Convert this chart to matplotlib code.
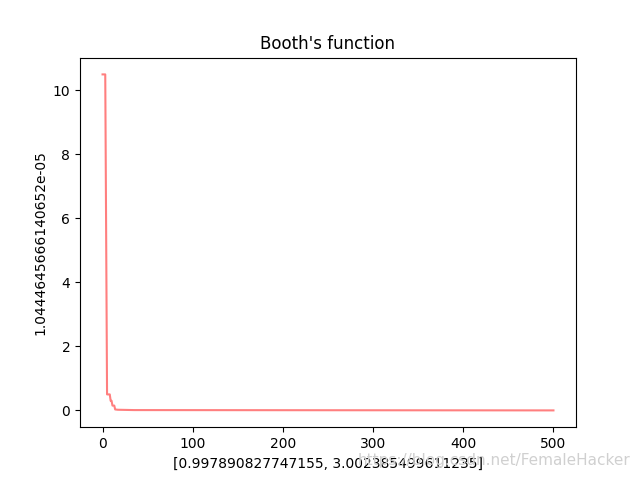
import matplotlib
matplotlib.use("Agg")
import matplotlib.pyplot as plt

iterations = [0, 3, 5, 8, 9, 10, 11, 13, 14, 17, 35, 500]
best_values = [10.5, 10.5, 0.5, 0.5, 0.3, 0.3, 0.15, 0.15, 0.03, 0.02, 0.01, 0.0]
title = "Booth's function"
xlabel = "[0.997890827747155, 3.002385499611235]"
ylabel = "1.0444645666140652e-05"

fig, ax = plt.subplots(figsize=(6.4, 4.8), dpi=100)
ax.plot(iterations, best_values, color='red', alpha=0.5, linewidth=1.5)
ax.set_title(title)
ax.set_xlabel(xlabel)
ax.set_ylabel(ylabel)
ax.set_xticks([0, 100, 200, 300, 400, 500])
ax.set_yticks([0, 2, 4, 6, 8, 10])
fig.text(0.985, 0.025, "https://blog.csdn.net/FemaleHacker", ha='right', va='bottom',
         color='#d0d0d0', fontsize=11)
fig.savefig("out.png")
